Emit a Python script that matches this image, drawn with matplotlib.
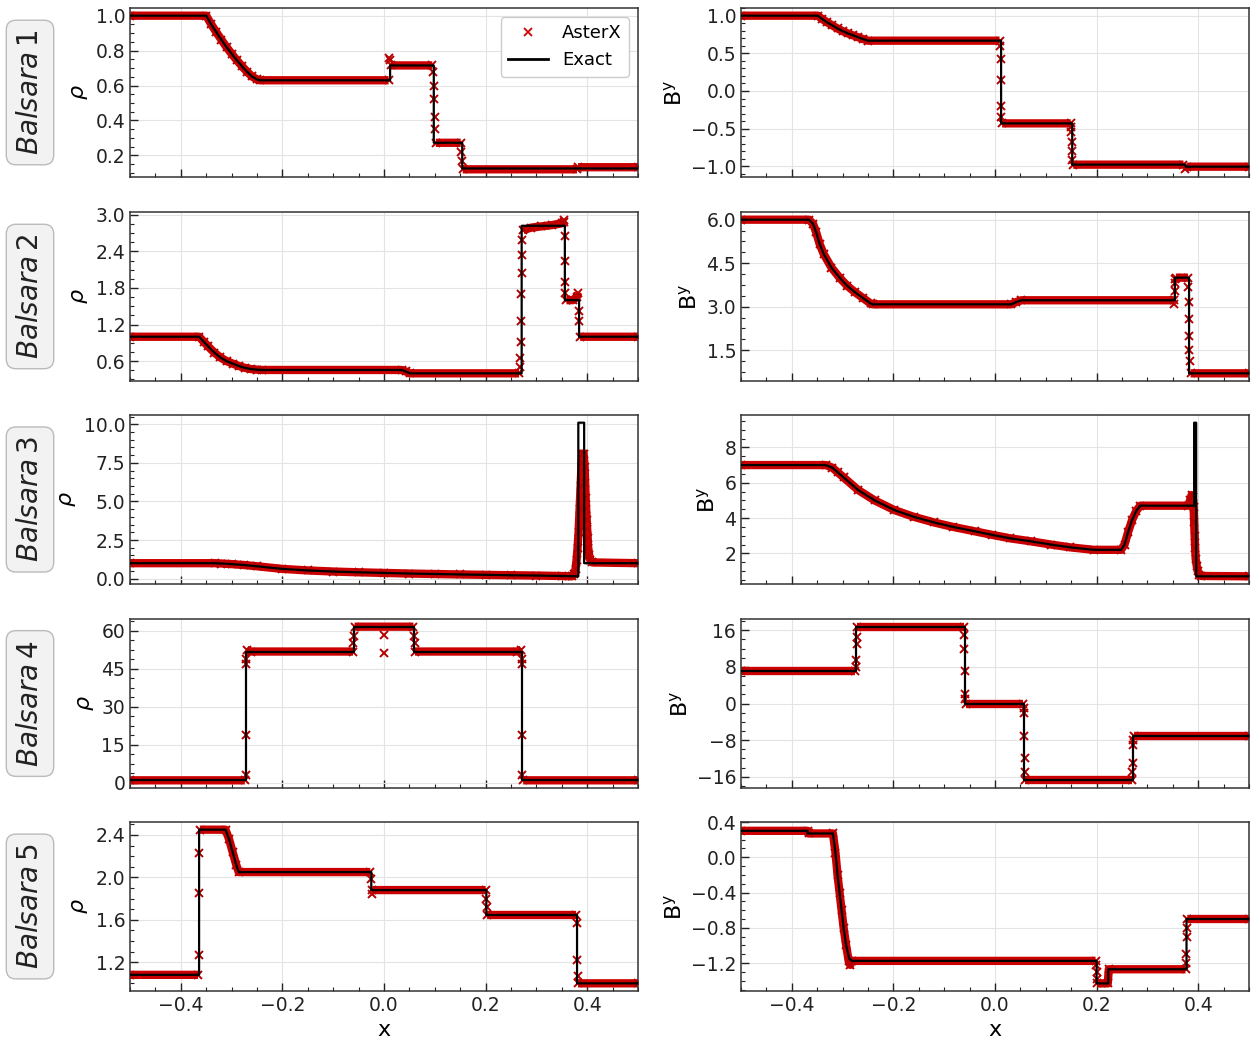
import numpy as np
import matplotlib
matplotlib.use('Agg')
import matplotlib.pyplot as plt
from matplotlib.lines import Line2D
from matplotlib.ticker import AutoMinorLocator

nan = np.nan

# ---------------- Balsara 1 ----------------
b1_rho_ex_x = [-0.5, -0.35, -0.34, -0.33, -0.32, -0.31, -0.30, -0.29, -0.28, -0.27, -0.26, -0.25, -0.245,
               0.012, 0.012, 0.098, 0.098, 0.154, 0.154, 0.5]
b1_rho_ex_y = [1.0, 1.0, 0.95, 0.905, 0.862, 0.82, 0.782, 0.746, 0.712, 0.68, 0.652, 0.635, 0.63,
               0.63, 0.715, 0.715, 0.272, 0.272, 0.125, 0.125]
b1_rho_num_x = [-0.5, -0.35, -0.34, -0.33, -0.32, -0.31, -0.30, -0.29, -0.28, -0.27, -0.26, -0.25, -0.245, 0.009,
                nan, 0.0105, nan, 0.0115, nan, 0.013, 0.095,
                nan, 0.0965, nan, 0.0975, nan, 0.0985, nan, 0.0995, nan, 0.1005, nan, 0.102, 0.151,
                nan, 0.1525, nan, 0.1535, nan, 0.155, 0.38, nan, 0.382, 0.5]
b1_rho_num_y = [1.0, 1.0, 0.95, 0.905, 0.862, 0.82, 0.782, 0.746, 0.712, 0.68, 0.652, 0.635, 0.63, 0.63,
                nan, 0.76, nan, 0.745, nan, 0.715, 0.715,
                nan, 0.68, nan, 0.6, nan, 0.52, nan, 0.42, nan, 0.35, nan, 0.272, 0.272,
                nan, 0.22, nan, 0.17, nan, 0.12, 0.12, nan, 0.132, 0.132]

b1_by_ex_x = [-0.5, -0.349, -0.34, -0.33, -0.32, -0.31, -0.30, -0.29, -0.28, -0.27, -0.26, -0.25,
              0.012, 0.012, 0.152, 0.152, 0.375, 0.375, 0.5]
b1_by_ex_y = [1.0, 1.0, 0.955, 0.91, 0.87, 0.83, 0.795, 0.765, 0.74, 0.715, 0.69, 0.668,
              0.668, -0.43, -0.43, -0.978, -0.978, -1.005, -1.005]
b1_by_num_x = [-0.5, -0.349, -0.34, -0.33, -0.32, -0.31, -0.30, -0.29, -0.28, -0.27, -0.26, -0.25, 0.009,
               nan, 0.0105, nan, 0.011, nan, 0.0115, nan, 0.012, nan, 0.0125, nan, 0.014, 0.149,
               nan, 0.150, nan, 0.1505, nan, 0.151, nan, 0.1515, nan, 0.152, nan, 0.154, 0.371,
               nan, 0.374, nan, 0.377, 0.5]
b1_by_num_y = [1.0, 1.0, 0.955, 0.91, 0.87, 0.83, 0.795, 0.765, 0.74, 0.715, 0.69, 0.668, 0.668,
               nan, 0.6, nan, 0.42, nan, 0.15, nan, -0.2, nan, -0.35, nan, -0.43, -0.43,
               nan, -0.48, nan, -0.55, nan, -0.68, nan, -0.8, nan, -0.92, nan, -0.978, -0.978,
               nan, -1.04, nan, -1.005, -1.005]

# ---------------- Balsara 2 ----------------
b2_rho_ex_x = [-0.5, -0.364, -0.355, -0.346, -0.334, -0.322, -0.31, -0.298, -0.286, -0.274, -0.262, -0.25, -0.24,
               0.035, 0.043, 0.051, 0.271, 0.271, 0.356, 0.356, 0.384, 0.384, 0.5]
b2_rho_ex_y = [1.0, 1.0, 0.92, 0.84, 0.74, 0.66, 0.6, 0.56, 0.52, 0.49, 0.47, 0.46, 0.455,
               0.455, 0.43, 0.40, 0.40, 2.82, 2.82, 1.6, 1.6, 1.0, 1.0]
b2_rho_num_x = [-0.5, -0.364, -0.355, -0.346, -0.334, -0.322, -0.31, -0.298, -0.286, -0.274, -0.262, -0.25, -0.24,
                0.035, 0.043, 0.051, 0.266,
                nan, 0.2675, nan, 0.2685, nan, 0.2695, nan, 0.27, nan, 0.2705, nan, 0.271, nan, 0.2715, nan, 0.272,
                nan, 0.274, 0.29, 0.31, 0.33, 0.35, 0.354,
                nan, 0.355, nan, 0.3555, nan, 0.356, nan, 0.3565, nan, 0.357,
                nan, 0.359, 0.372, 0.38, 0.382,
                nan, 0.3835, nan, 0.3845, nan, 0.386, 0.5]
b2_rho_num_y = [1.0, 1.0, 0.92, 0.84, 0.74, 0.66, 0.6, 0.56, 0.52, 0.49, 0.47, 0.46, 0.455,
                0.455, 0.43, 0.40, 0.40,
                nan, 0.5, nan, 0.65, nan, 0.91, nan, 1.25, nan, 1.7, nan, 2.04, nan, 2.34, nan, 2.58,
                nan, 2.75, 2.79, 2.81, 2.83, 2.86, 2.88,
                nan, 2.92, nan, 2.66, nan, 2.25, nan, 1.9, nan, 1.72,
                nan, 1.6, 1.6, 1.66, 1.72,
                nan, 1.42, nan, 1.26, nan, 1.0, 1.0]

b2_by_ex_x = [-0.5, -0.366, -0.358, -0.352, -0.345, -0.337, -0.322, -0.306, -0.291, -0.275, -0.26, -0.245, -0.24,
              0.032, 0.042, 0.052, 0.354, 0.354, 0.382, 0.382, 0.5]
b2_by_ex_y = [6.0, 6.0, 5.85, 5.56, 5.15, 4.81, 4.35, 4.0, 3.72, 3.49, 3.30, 3.11, 3.08,
              3.08, 3.16, 3.22, 3.22, 4.0, 4.0, 0.7, 0.7]
b2_by_num_x = [-0.5, -0.366, -0.358, -0.352, -0.345, -0.337, -0.322, -0.306, -0.291, -0.275, -0.26, -0.245, -0.24,
               0.032, 0.042, 0.052, 0.352,
               nan, 0.353, nan, 0.3535, nan, 0.354, nan, 0.3545,
               nan, 0.356, 0.38,
               nan, 0.3805, nan, 0.381, nan, 0.3815, nan, 0.382, nan, 0.3825, nan, 0.383,
               nan, 0.385, 0.5]
b2_by_num_y = [6.0, 6.0, 5.85, 5.56, 5.15, 4.81, 4.35, 4.0, 3.72, 3.49, 3.30, 3.11, 3.08,
               3.08, 3.16, 3.22, 3.22,
               nan, 3.08, nan, 3.55, nan, 3.81, nan, 3.97,
               nan, 4.0, 4.0,
               nan, 3.67, nan, 3.15, nan, 2.58, nan, 2.0, nan, 1.52, nan, 1.14,
               nan, 0.7, 0.7]

# ---------------- Balsara 3 ----------------
b3_rho_ex_x = [-0.5, -0.333, -0.32, -0.30, -0.275, -0.25, -0.2, -0.15, -0.1, -0.05, 0.0, 0.05, 0.1, 0.15,
               0.2, 0.25, 0.3, 0.35, 0.3825, 0.3825, 0.394, 0.394, 0.5]
b3_rho_ex_y = [1.0, 1.0, 0.98, 0.94, 0.88, 0.8, 0.63, 0.53, 0.46, 0.41, 0.37, 0.33, 0.3, 0.27,
               0.245, 0.22, 0.2, 0.17, 0.15, 10.1, 10.1, 1.0, 1.0]
b3_rho_num_x = [-0.5, -0.333, -0.32, -0.30, -0.275, -0.25, -0.2, -0.15, -0.1, -0.05, 0.0, 0.05, 0.1, 0.15,
                0.2, 0.25, 0.3, 0.35, 0.37, 0.374, 0.377, 0.379, 0.381, 0.383, 0.385, 0.387, 0.389, 0.391,
                0.393, 0.395, 0.396, 0.397, 0.398, 0.399, 0.400, 0.401, 0.402, 0.404, 0.406, 0.41, 0.5]
b3_rho_num_y = [1.0, 1.0, 0.98, 0.94, 0.88, 0.8, 0.63, 0.53, 0.46, 0.41, 0.37, 0.33, 0.3, 0.27,
                0.245, 0.22, 0.2, 0.17, 0.15, 0.3, 0.6, 1.2, 2.0, 3.0, 4.5, 6.0, 7.5, 8.1,
                8.1, 7.2, 6.2, 5.2, 4.5, 3.8, 3.2, 2.6, 2.0, 1.5, 1.2, 1.05, 1.0]

b3_by_ex_x = [-0.5, -0.333, -0.32, -0.31, -0.298, -0.27, -0.237, -0.198, -0.16, -0.12, -0.083, -0.04, -0.006,
              0.03, 0.071, 0.11, 0.148, 0.194, 0.248, 0.255, 0.262, 0.27, 0.278, 0.286,
              0.392, 0.392, 0.396, 0.396, 0.5]
b3_by_ex_y = [7.0, 7.0, 6.85, 6.6, 6.3, 5.6, 5.0, 4.45, 4.07, 3.75, 3.5, 3.25, 3.05,
              2.85, 2.68, 2.5, 2.34, 2.2, 2.2, 2.5, 3.2, 3.9, 4.4, 4.7,
              4.7, 9.4, 9.4, 0.7, 0.7]
b3_by_num_x = [-0.5, -0.333, -0.32, -0.31, -0.298, -0.27, -0.237, -0.198, -0.16, -0.12, -0.083, -0.04, -0.006,
               0.03, 0.071, 0.11, 0.148, 0.194, 0.248, 0.255, 0.262, 0.27, 0.278, 0.286,
               0.38, 0.384, 0.387, 0.389, 0.391, 0.392, 0.393, 0.394, 0.395, 0.397, 0.399, 0.402, 0.406, 0.5]
b3_by_num_y = [7.0, 7.0, 6.85, 6.6, 6.3, 5.6, 5.0, 4.45, 4.07, 3.75, 3.5, 3.25, 3.05,
               2.85, 2.68, 2.5, 2.34, 2.2, 2.2, 2.5, 3.2, 3.9, 4.4, 4.7,
               4.7, 5.0, 5.3, 5.2, 4.6, 3.8, 3.0, 2.3, 1.7, 1.3, 1.0, 0.8, 0.72, 0.7]

# ---------------- Balsara 4 ----------------
b4_rho_ex_x = [-0.5, -0.272, -0.272, -0.059, -0.059, 0.059, 0.059, 0.272, 0.272, 0.5]
b4_rho_ex_y = [1.0, 1.0, 51.8, 51.8, 61.6, 61.6, 51.8, 51.8, 1.0, 1.0]
b4_rho_num_x = [-0.5, -0.274,
                nan, -0.2725, nan, -0.272, nan, -0.2715, nan, -0.271,
                nan, -0.2705, -0.262, -0.061,
                nan, -0.0603, nan, -0.0597,
                nan, -0.058, 0.058,
                nan, 0.0597, nan, 0.0603,
                nan, 0.061, 0.262, 0.2705,
                nan, 0.271, nan, 0.2715, nan, 0.272, nan, 0.2725,
                nan, 0.274, 0.5,
                nan, 0.0, nan, 0.0005]
b4_rho_num_y = [1.0, 1.0,
                nan, 3.0, nan, 19.0, nan, 47.0, nan, 49.0,
                nan, 52.5, 51.8, 51.8,
                nan, 55.0, nan, 58.0,
                nan, 61.6, 61.6,
                nan, 58.0, nan, 55.0,
                nan, 51.8, 51.8, 52.5,
                nan, 49.0, nan, 47.0, nan, 19.0, nan, 3.0,
                nan, 1.0, 1.0,
                nan, 58.5, nan, 51.2]

b4_by_ex_x = [-0.5, -0.273, -0.273, -0.06, -0.06, 0.058, 0.058, 0.272, 0.272, 0.5]
b4_by_ex_y = [7.0, 7.0, 16.8, 16.8, 0.0, 0.0, -16.8, -16.8, -7.0, -7.0]
b4_by_num_x = [-0.5, -0.275,
               nan, -0.2735, nan, -0.273, nan, -0.2725, nan, -0.272,
               nan, -0.271, -0.062,
               nan, -0.0612, nan, -0.0606, nan, -0.06, nan, -0.0594, nan, -0.0588,
               nan, -0.058, 0.056,
               nan, 0.0568, nan, 0.0574, nan, 0.058, nan, 0.0586, nan, 0.0592,
               nan, 0.06, 0.27,
               nan, 0.2705, nan, 0.271, nan, 0.2715, nan, 0.272,
               nan, 0.273, 0.5]
b4_by_num_y = [7.0, 7.0,
               nan, 8.0, nan, 9.5, nan, 13.0, nan, 14.5,
               nan, 16.8, 16.8,
               nan, 15.0, nan, 12.0, nan, 7.0, nan, 2.0, nan, 1.0,
               nan, 0.0, 0.0,
               nan, -1.0, nan, -2.0, nan, -7.0, nan, -12.0, nan, -15.0,
               nan, -16.8, -16.8,
               nan, -15.0, nan, -13.0, nan, -9.0, nan, -8.0,
               nan, -7.0, -7.0]

# ---------------- Balsara 5 ----------------
b5_rho_ex_x = [-0.5, -0.364, -0.364, -0.312, -0.305, -0.298, -0.291, -0.286, -0.025, -0.025,
               0.2015, 0.2015, 0.38, 0.38, 0.5]
b5_rho_ex_y = [1.08, 1.08, 2.45, 2.45, 2.36, 2.24, 2.12, 2.05, 2.05, 1.88,
               1.88, 1.645, 1.645, 1.0, 1.0]
b5_rho_num_x = [-0.5, -0.366,
                nan, -0.3648, nan, -0.3642, nan, -0.3636,
                nan, -0.3625, -0.312, -0.305, -0.298, -0.291, -0.286, -0.027,
                nan, -0.0255, nan, -0.0245,
                nan, -0.023, 0.2,
                nan, 0.201, nan, 0.202,
                nan, 0.203, 0.378,
                nan, 0.3795, nan, 0.3802, nan, 0.381,
                nan, 0.382, 0.5]
b5_rho_num_y = [1.08, 1.08,
                nan, 1.27, nan, 1.85, nan, 2.23,
                nan, 2.45, 2.45, 2.36, 2.24, 2.12, 2.05, 2.05,
                nan, 1.98, nan, 1.84,
                nan, 1.88, 1.88,
                nan, 1.8, nan, 1.72,
                nan, 1.645, 1.645,
                nan, 1.57, nan, 1.22, nan, 1.07,
                nan, 1.0, 1.0]

b5_by_ex_x = [-0.5, -0.369, -0.369, -0.319, -0.314, -0.31, -0.306, -0.302, -0.298, -0.293, -0.287, -0.281,
              0.2, 0.2, 0.223, 0.223, 0.377, 0.377, 0.5]
b5_by_ex_y = [0.3, 0.3, 0.27, 0.27, 0.05, -0.2, -0.4, -0.6, -0.8, -1.0, -1.15, -1.175,
              -1.175, -1.43, -1.43, -1.27, -1.27, -0.7, -0.7]
b5_by_num_x = [-0.5, -0.369, -0.367, -0.319, -0.314, -0.31, -0.306, -0.302, -0.298, -0.293, -0.288, -0.285, -0.281, 0.198,
               nan, 0.1995, nan, 0.2, nan, 0.2005,
               nan, 0.201, 0.222, 0.224, 0.375,
               nan, 0.3757, nan, 0.3763, nan, 0.377, nan, 0.3777,
               nan, 0.3785, 0.5]
b5_by_num_y = [0.3, 0.3, 0.27, 0.27, 0.05, -0.2, -0.4, -0.6, -0.8, -1.0, -1.18, -1.22, -1.175, -1.175,
               nan, -1.22, nan, -1.3, nan, -1.38,
               nan, -1.43, -1.43, -1.27, -1.27,
               nan, -1.2, nan, -1.1, nan, -0.9, nan, -0.8,
               nan, -0.7, -0.7]

row_names = [r'$\mathit{Balsara}\,1$', r'$\mathit{Balsara}\,2$', r'$\mathit{Balsara}\,3$',
             r'$\mathit{Balsara}\,4$', r'$\mathit{Balsara}\,5$']
x_ticks = [-0.4, -0.2, 0.0, 0.2, 0.4]
rho_ticks = [[0.2, 0.4, 0.6, 0.8, 1.0], [0.6, 1.2, 1.8, 2.4, 3.0], [0.0, 2.5, 5.0, 7.5, 10.0],
             [0, 15, 30, 45, 60], [1.2, 1.6, 2.0, 2.4]]
by_ticks = [[-1.0, -0.5, 0.0, 0.5, 1.0], [1.5, 3.0, 4.5, 6.0], [2, 4, 6, 8],
            [-16, -8, 0, 8, 16], [-1.2, -0.8, -0.4, 0.0, 0.4]]

rho_panels = [(b1_rho_num_x, b1_rho_num_y, b1_rho_ex_x, b1_rho_ex_y),
              (b2_rho_num_x, b2_rho_num_y, b2_rho_ex_x, b2_rho_ex_y),
              (b3_rho_num_x, b3_rho_num_y, b3_rho_ex_x, b3_rho_ex_y),
              (b4_rho_num_x, b4_rho_num_y, b4_rho_ex_x, b4_rho_ex_y),
              (b5_rho_num_x, b5_rho_num_y, b5_rho_ex_x, b5_rho_ex_y)]
by_panels = [(b1_by_num_x, b1_by_num_y, b1_by_ex_x, b1_by_ex_y),
             (b2_by_num_x, b2_by_num_y, b2_by_ex_x, b2_by_ex_y),
             (b3_by_num_x, b3_by_num_y, b3_by_ex_x, b3_by_ex_y),
             (b4_by_num_x, b4_by_num_y, b4_by_ex_x, b4_by_ex_y),
             (b5_by_num_x, b5_by_num_y, b5_by_ex_x, b5_by_ex_y)]

red = '#cc0000'
W, H = 1253, 1045
col_left = [130, 741]
ax_w = 508
row_top = [8, 212, 415, 619, 822]
ax_h = 169

fig = plt.figure(figsize=(W / 100, H / 100), dpi=100)


def draw(ax, data, yt, ylabel, bottom):
    nx, ny, ex, ey = data
    ax.plot(nx, ny, color=red, lw=6, solid_capstyle='butt', marker='x', ms=5.5,
            mew=1.4, mec='#b80000', zorder=2)
    ax.plot(ex, ey, color='black', lw=1.6, zorder=3)
    ax.set_xlim(-0.5, 0.5)
    ax.set_xticks(x_ticks)
    ax.set_yticks(yt)
    ax.xaxis.set_minor_locator(AutoMinorLocator())
    ax.yaxis.set_minor_locator(AutoMinorLocator())
    ax.tick_params(which='both', direction='in', labelsize=13.5, colors='#222222')
    ax.tick_params(which='major', length=6, width=1.0)
    ax.tick_params(which='minor', length=3, width=0.8)
    ax.grid(True, which='major', color='#e3e3e3', lw=0.8)
    ax.set_axisbelow(True)
    for s in ax.spines.values():
        s.set_color('#333333')
        s.set_linewidth(1.1)
    ax.set_ylabel(ylabel, fontsize=16)
    if bottom:
        ax.set_xlabel('x', fontsize=16)
    else:
        ax.tick_params(labelbottom=False)


for i in range(5):
    b = 1 - (row_top[i] + ax_h) / H
    axl = fig.add_axes([col_left[0] / W, b, ax_w / W, ax_h / H])
    axr = fig.add_axes([col_left[1] / W, b, ax_w / W, ax_h / H])
    draw(axl, rho_panels[i], rho_ticks[i], r'$\rho$', i == 4)
    draw(axr, by_panels[i], by_ticks[i], r'B$^{\mathrm{y}}$', i == 4)
    fig.text(30 / W, 1 - (row_top[i] + ax_h / 2) / H, row_names[i], rotation=90,
             fontsize=20, ha='center', va='center', color='#222222',
             bbox=dict(boxstyle='round,pad=0.35', fc='#f2f2f2', ec='#bbbbbb', lw=1.0))
    if i == 0:
        handles = [Line2D([], [], color=red, marker='x', ls='none', ms=6, mew=1.3),
                   Line2D([], [], color='black', lw=2)]
        axl.legend(handles, ['AsterX', 'Exact'], loc='upper right', fontsize=13,
                   framealpha=1, edgecolor='#cccccc', handlelength=2.2)

fig.savefig('out.png', dpi=100)
